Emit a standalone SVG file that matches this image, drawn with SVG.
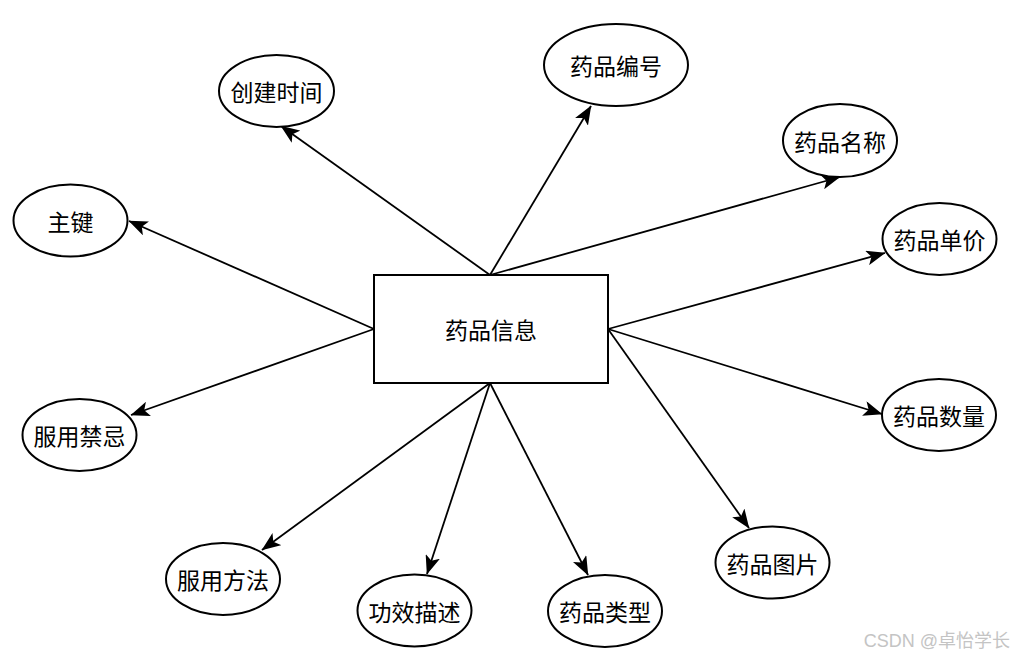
<svg xmlns="http://www.w3.org/2000/svg" width="1015" height="659" viewBox="0 0 1015 659">
<defs>
<marker id="arr" viewBox="0 0 19 15" refX="18.5" refY="7.5" markerWidth="19" markerHeight="15" markerUnits="userSpaceOnUse" orient="auto">
<path d="M0,0 L19,7.5 L0,15 L4.5,7.5 Z" fill="#000"/>
</marker>
<style>
.n{fill:#fff;stroke:#000;stroke-width:2}
.t{font-family:"Noto Sans CJK SC","Noto Sans",sans-serif;font-size:23px;fill:#000;text-anchor:middle;dominant-baseline:central}
.e{stroke:#000;stroke-width:1.8;fill:none;marker-end:url(#arr)}
</style>
</defs>
<rect width="1015" height="659" fill="#fff"/>
<g id="connectors">
<line class="e" x1="490" y1="275" x2="281" y2="126"/>
<line class="e" x1="490" y1="275" x2="591" y2="106"/>
<line class="e" x1="490" y1="275" x2="840" y2="177"/>
<line class="e" x1="374" y1="329" x2="129" y2="221"/>
<line class="e" x1="374" y1="329" x2="131" y2="415"/>
<line class="e" x1="608" y1="329" x2="885" y2="253"/>
<line class="e" x1="608" y1="329" x2="882" y2="414"/>
<line class="e" x1="608" y1="329" x2="749" y2="528"/>
<line class="e" x1="490" y1="383" x2="262" y2="550"/>
<line class="e" x1="490" y1="383" x2="427" y2="574"/>
<line class="e" x1="490" y1="383" x2="588" y2="575"/>
</g>
<g id="center"><rect class="n" x="374" y="275" width="234" height="108"/><text class="t" x="491" y="329">药品信息</text></g>
<g id="n1"><ellipse class="n" cx="276.5" cy="91" rx="57.5" ry="36"/><text class="t" x="276.5" y="91">创建时间</text></g>
<g id="n2"><ellipse class="n" cx="616" cy="65" rx="72" ry="41"/><text class="t" x="616" y="65">药品编号</text></g>
<g id="n3"><ellipse class="n" cx="840" cy="140.5" rx="57" ry="36.5"/><text class="t" x="840" y="140.5">药品名称</text></g>
<g id="n4"><ellipse class="n" cx="70.5" cy="220.5" rx="57" ry="36"/><text class="t" x="70.5" y="220.5">主键</text></g>
<g id="n5"><ellipse class="n" cx="939.5" cy="239" rx="57" ry="36"/><text class="t" x="939.5" y="239">药品单价</text></g>
<g id="n6"><ellipse class="n" cx="79.5" cy="435" rx="57" ry="36"/><text class="t" x="79.5" y="435">服用禁忌</text></g>
<g id="n7"><ellipse class="n" cx="939" cy="415" rx="57" ry="36"/><text class="t" x="939" y="415">药品数量</text></g>
<g id="n8"><ellipse class="n" cx="772.5" cy="562.5" rx="57" ry="36"/><text class="t" x="772.5" y="562.5">药品图片</text></g>
<g id="n9"><ellipse class="n" cx="223" cy="579" rx="57" ry="36"/><text class="t" x="223" y="579">服用方法</text></g>
<g id="n10"><ellipse class="n" cx="414.5" cy="610.5" rx="57" ry="36"/><text class="t" x="414.5" y="610.5">功效描述</text></g>
<g id="n11"><ellipse class="n" cx="605" cy="611" rx="57" ry="36"/><text class="t" x="605" y="611">药品类型</text></g>
<text x="1010" y="647" font-family="'Liberation Sans','Noto Sans CJK SC',sans-serif" font-size="18" fill="#c4c4c4" text-anchor="end">CSDN @卓怡学长</text>
</svg>
